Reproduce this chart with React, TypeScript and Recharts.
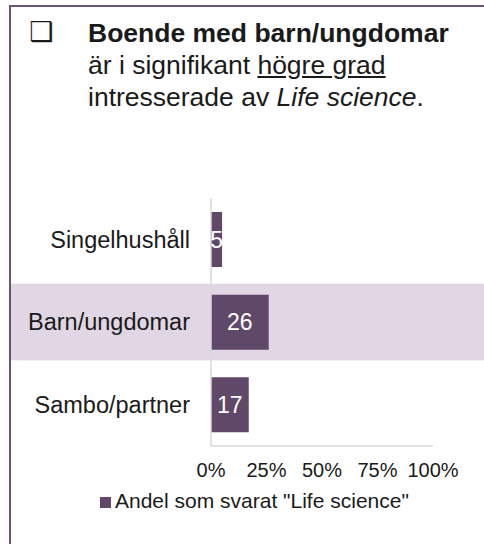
import React from "react";
import {
  BarChart,
  Bar,
  XAxis,
  YAxis,
  LabelList,
  ReferenceArea,
} from "recharts";

// household types, top to bottom
const categories = ["Singelhushåll", "Barn/ungdomar", "Sambo/partner"];
// share answering "Life science", percent
const shares = [5, 26, 17];
const xTicks = [0, 25, 50, 75, 100];
const seriesName = 'Andel som svarat "Life science"';
const highlighted = "Barn/ungdomar";

const BAR_COLOR = "#604868";
const BAND_COLOR = "#e1d6e3";
const FRAME_COLOR = "#6a5470";
const AXIS_COLOR = "#d9d9d9";
const FONT = '"Liberation Sans", Arial, sans-serif';

const CHART_W = 473;
const CHART_H = 544;

const data = categories.map((name, i) => ({ name, value: shares[i] }));

// band that runs across the whole frame, behind the highlighted row
const bandShape = (p: any) => (
  <rect x={0} y={p.y + 3} width={CHART_W} height={p.height - 6} fill={BAND_COLOR} />
);

export default function App() {
  return (
    <div
      style={{
        position: "absolute",
        left: 0,
        top: 0,
        width: 484,
        height: 544,
        background: "#fff",
        fontFamily: FONT,
        color: "#1a1a1a",
        overflow: "hidden",
      }}
    >
      {/* frame */}
      <div
        style={{
          position: "absolute",
          left: 9,
          top: 5,
          right: 0,
          bottom: 0,
          borderTop: `2px solid ${FRAME_COLOR}`,
          borderLeft: `2px solid ${FRAME_COLOR}`,
        }}
      />

      <div style={{ position: "absolute", left: 11, top: 0 }}>
        <BarChart
          width={CHART_W}
          height={CHART_H}
          data={data}
          layout="vertical"
          margin={{ top: 198, right: 51, bottom: 58, left: 0 }}
        >
          <ReferenceArea
            y1={highlighted}
            y2={highlighted}
            shape={bandShape}
            fill={BAND_COLOR}
            fillOpacity={1}
          />
          <XAxis
            type="number"
            domain={[0, 100]}
            ticks={xTicks}
            tickFormatter={(v) => `${v}%`}
            height={40}
            tickLine={false}
            tickSize={0}
            tickMargin={17}
            axisLine={{ stroke: AXIS_COLOR, strokeWidth: 1.5 }}
            tick={{ fill: "#1a1a1a", fontSize: 20 }}
            interval={0}
          />
          <YAxis
            type="category"
            dataKey="name"
            width={200}
            tickLine={false}
            tickSize={0}
            tickMargin={21}
            axisLine={{ stroke: AXIS_COLOR, strokeWidth: 1.5 }}
            tick={{ fill: "#1a1a1a", fontSize: 23.5 }}
          />
          <Bar dataKey="value" name={seriesName} fill={BAR_COLOR} barSize={55} isAnimationActive={false}>
            <LabelList dataKey="value" position="center" fill="#fff" fontSize={23} />
          </Bar>
        </BarChart>
      </div>

      {/* title */}
      <div
        style={{
          position: "absolute",
          left: 29,
          top: 16,
          fontFamily: '"DejaVu Sans", sans-serif',
          fontSize: 27,
          lineHeight: "31.8px",
          fontWeight: "bold",
        }}
      >
        ❑
      </div>
      <div
        style={{
          position: "absolute",
          left: 88,
          top: 18,
          fontSize: 26.5,
          lineHeight: "31.8px",
          whiteSpace: "nowrap",
        }}
      >
        <div style={{ fontWeight: "bold" }}>Boende med barn/ungdomar</div>
        <div>
          är i signifikant <span style={{ textDecoration: "underline" }}>högre grad</span>
        </div>
        <div>
          intresserade av <i>Life science</i>.
        </div>
      </div>

      {/* legend */}
      <div
        style={{
          position: "absolute",
          left: 100,
          top: 489,
          display: "flex",
          alignItems: "flex-start",
          fontSize: 21,
          whiteSpace: "nowrap",
        }}
      >
        <span
          style={{
            width: 11,
            height: 11,
            background: BAR_COLOR,
            marginTop: 8,
            marginRight: 4,
            display: "inline-block",
          }}
        />
        <span>{seriesName}</span>
      </div>
    </div>
  );
}
